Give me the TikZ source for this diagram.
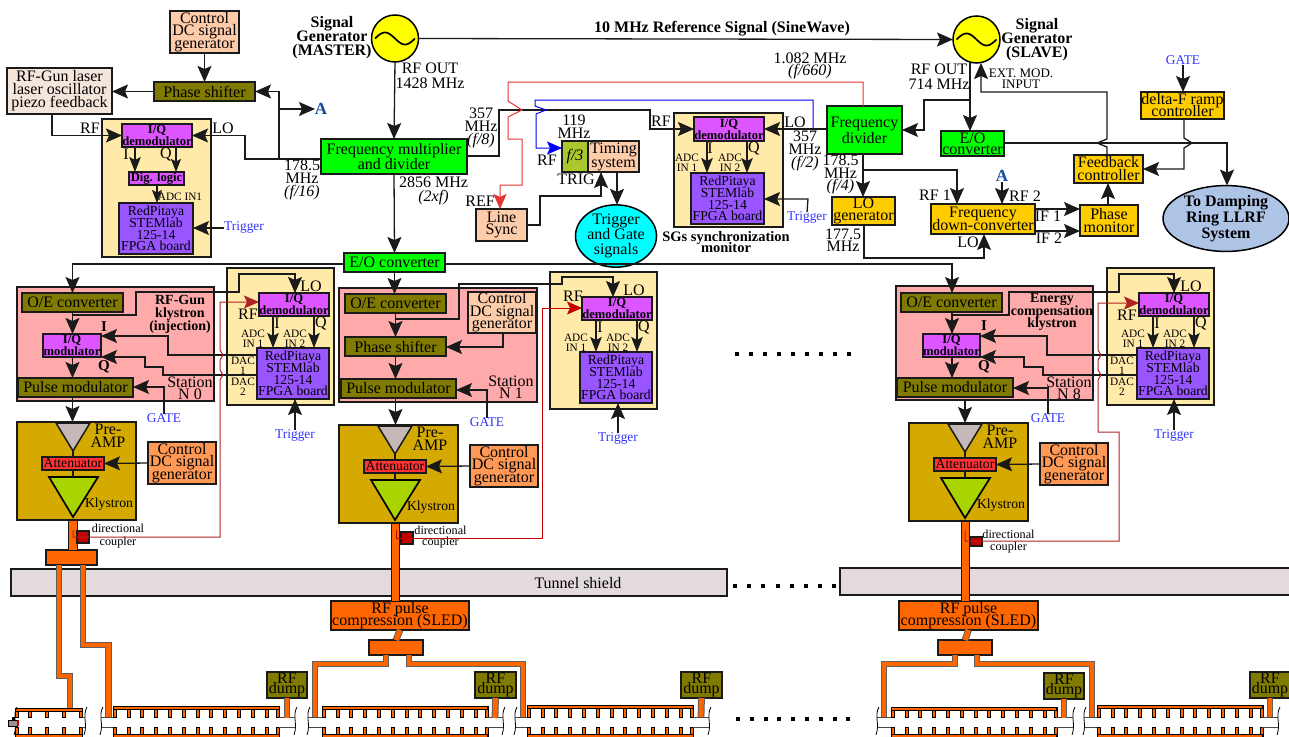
\documentclass[tikz,border=0pt]{standalone}
\usepackage{fontspec}
\setmainfont{Liberation Serif}
\usetikzlibrary{arrows.meta,shapes.geometric}
\lineskiplimit=-100pt
\definecolor{cPeach}{HTML}{FFCCAA}
\definecolor{cOlive}{HTML}{807B00}
\definecolor{cCream}{HTML}{F5E6DC}
\definecolor{cYel}{HTML}{FFEAAA}
\definecolor{cMag}{HTML}{DD55FF}
\definecolor{cPur}{HTML}{9955FF}
\definecolor{cGrn}{HTML}{00FF00}
\definecolor{cGold}{HTML}{FFCC00}
\definecolor{cPink}{HTML}{FFAAAA}
\definecolor{cAmb}{HTML}{D4AA00}
\definecolor{cGray}{HTML}{C4B8B8}
\definecolor{cAtt}{HTML}{FF3333}
\definecolor{cKly}{HTML}{AAD400}
\definecolor{cOrg}{HTML}{FF9955}
\definecolor{cWg}{HTML}{FF6600}
\definecolor{cTun}{HTML}{E3DBDB}
\definecolor{cBlue}{HTML}{3333FF}
\definecolor{cNavy}{HTML}{114B9C}
\definecolor{cDamp}{HTML}{AEC4E6}
\definecolor{cF}{HTML}{AAC82E}
\definecolor{cRedA}{HTML}{B22222}
\definecolor{cRedB}{HTML}{C40000}
\definecolor{cRedC}{HTML}{E83333}
\definecolor{cLn}{HTML}{1A1A1A}
\definecolor{cCyan}{HTML}{00FFFF}
\definecolor{cSig}{HTML}{FFFF00}
\definecolor{cPure}{HTML}{0000FF}
\newcommand\fAs[1]{\fontsize{16}{#1}\selectfont}
\newcommand\fA{\fAs{13}}
\newcommand\fB{\fontsize{13.7}{11.7}\selectfont}
\newcommand\fC{\fontsize{12.6}{12}\selectfont\bfseries}
\newcommand\fS{\fontsize{11.3}{10}\selectfont}
\newcommand\fT{\fontsize{13.4}{12}\selectfont}
\newcommand\fG{\fontsize{16}{14}\selectfont\bfseries}
\tikzset{
 box/.style={draw=cLn,line width=1.6pt,inner sep=0pt,outer sep=0pt,align=center,font=\fA},
 thick box/.style={box,line width=2.2pt},
 thin box/.style={box,line width=1.2pt},
 lbl/.style={inner sep=0pt,outer sep=0pt,align=center,font=\fA},
 blab/.style={lbl,font=\fT,text=cBlue},
 lnk/.style={line width=1.3pt,draw=cLn},
 arr/.style={lnk,-{Stealth[length=16pt,width=14pt,inset=3pt]}},
 marr/.style={lnk,-{Stealth[length=15pt,width=11.5pt,inset=3pt]}},
 sarr/.style={lnk,-{Stealth[length=13pt,width=10pt,inset=2.5pt]}},
 red arr/.style={line width=1pt,-{Stealth[length=15pt,width=13pt,inset=3pt]}},
 wg/.style={draw=cLn!70,double=cWg,double distance=4.8pt,line width=1pt,line cap=butt,miter limit=10},
 wgk/.style={draw=cLn,double=cWg,double distance=7.6pt,line width=.8pt},
 tooth/.style={draw=black,fill=cWg,line width=.5pt},
 dotrow/.style={fill=black}
}
\newcommand\bx[7]{\node[#1,minimum width={(#5-#3)*1pt},minimum height={(#6-#4)*1pt}] (#2) at ({(#3+#5)/2},{(#4+#6)/2}) {#7};}
\newcount\lbc
\newcommand\lb[4][]{\global\advance\lbc by 1 \node[lbl,#1] (lb\the\lbc) at (#2,#3) {#4};}
\newcommand\sg[3]{%
 \node[circle,draw=black,fill=cSig,line width=1.5pt,minimum size=47pt,inner sep=0pt,outer sep=0pt] (#1) at (#2,#3) {};
 \draw[line width=1.7pt,black] plot[domain=-20:20,samples=41,smooth] ({#2+\x},{#3+6*sin(\x*9)});}
% FPGA block
\newcommand\fpga[5]{%
 \begin{scope}[shift={(#2,#3)}]
 \bx{box,fill=cYel}{yb#1}{0}{0}{107}{137}{}
 \bx{box,fill=cMag,font=\fC}{iq#1}{32}{25}{102}{48}{I/Q\\demodulator}
 \bx{box,fill=cPur,font=\fB}{rp#1}{30}{80}{102}{131}{RedPitaya\\STEMlab\\125-14\\FPGA board}
 \draw[marr] (46,0 |- iq#1.south) -- (46,0 |- rp#1.north);
 \draw[marr] (87,0 |- iq#1.south) -- (87,0 |- rp#1.north);
 \lb{50}{55}{I}
 \lb{94}{55}{Q}
 \lb[font=\fS]{26}{71}{ADC\\IN 1}
 \lb[font=\fS]{68}{71}{ADC\\IN 2}
 \lb{84}{18}{LO}
 \lb{#4}{#5}{RF}
 \end{scope}}
% amplifier block
\newcommand\amp[3]{%
 \begin{scope}[shift={(#2,#3)}]
 \bx{box,fill=cAmb}{am#1}{0}{0}{119}{98}{}
 \draw[line width=1.5pt,draw=cLn,fill=cGray] (39,1) -- (73,1) -- (56,29) -- cycle;
 \bx{box,fill=cAtt,font=\fB}{at#1}{25}{35}{87}{48}{Attenuator}
 \draw[line width=1.7pt,draw=black,fill=cKly] (32,55) -- (81,55) -- (56,95) -- cycle;
 \draw[lnk] (56,29) -- (at#1.north);
 \draw[lnk] (at#1.south) -- (56,55);
 \lb{91}{14}{Pre-\\AMP}
 \lb[font=\fB]{92}{82}{Klystron}
 \bx{thick box,fill=cOrg,font=\fAs{12.5}}{dc#1}{131}{20}{199}{62}{Control\\DC signal\\generator}
 \draw[arr] (dc#1.west) -- (at#1.east);
 \end{scope}}
% accelerating structure
\newcommand\acc[6]{%
 \edef\toothlist{#6}%
 \foreach \tp in \toothlist {
  \filldraw[tooth] ({#1+\tp},#3) rectangle ({#1+\tp+3},717);
  \filldraw[tooth] ({#1+\tp},727) rectangle ({#1+\tp+3},737);
 }
 \filldraw[tooth] (#1,#3) rectangle (#2,{#3+2.8});
 \filldraw[tooth] (#1,734) rectangle (#2,738);
 \draw[line width=.9pt,cLn!80] (#4,717) -- (#1,717) (#2,717) -- (#5,717) (#4,727) -- (#1,727) (#2,727) -- (#5,727);
 \draw[line width=.8pt,black] ({#4+2},707) .. controls ({#4-3},716) and ({#4+3},724) .. ({#4-1},735);
 \draw[line width=.8pt,black] ({#5+2},707) .. controls ({#5-3},716) and ({#5+3},724) .. ({#5-1},735);}
\newcommand\lng{0,13.8,27.6,41.4,55.2,69,82.8,96.6,110.4,124.2,138,151.8,163}
\begin{document}
\begin{tikzpicture}[x=1pt,y=-1pt]
\useasboundingbox (0,0) rectangle (1289,736);
\fill[white] (0,0) rectangle (1289,736);
% ---- tunnel shield
\bx{thin box,fill=cTun}{tun1}{11}{569}{727}{596}{}
\bx{thin box,fill=cTun}{tun2}{840}{568}{1290}{595}{}
\lb{578}{583}{Tunnel shield}
% ---- accelerating structures
\acc{15}{82}{708}{15}{85}{0,13,30,47,64}
\acc{113}{279}{706}{101}{295}{\lng}
\acc{322}{487}{706}{308}{503}{\lng}
\acc{527}{693}{705}{515}{709}{\lng}
\acc{891}{1056}{707}{877}{1073}{\lng}
\acc{1097}{1262}{705}{1084}{1278}{\lng}
\fill[cGray!80!black] (8,720) rectangle (17,726);
\draw[line width=.7pt,black] (8,720) rectangle (17,726);
\fill[cRedB] (17,720) rectangle (19,726);
\fill[black] (12,717) rectangle (15,720);
% ---- waveguide splitters and SLED
\coordinate (wgA) at (70,708);
\coordinate (wgB) at (108.5,717);
\coordinate (wgC) at (315,717);
\coordinate (wgD) at (523,717);
\coordinate (wgE) at (884,717);
\coordinate (wgF) at (1092,717);
\bx{box,fill=cWg,line width=1.2pt}{sp0}{46}{550}{97}{565}{}
\bx{thick box,fill=cWg,font=\fAs{12}}{sl1}{331}{601}{469}{630}{RF pulse\\compression (SLED)}
\bx{box,fill=cWg,line width=1.2pt}{sp1}{369}{640}{423}{655}{}
\bx{thick box,fill=cWg,font=\fAs{12}}{sl2}{899}{601}{1038}{630}{RF pulse\\compression (SLED)}
\bx{box,fill=cWg,line width=1.2pt}{sp2}{938}{640}{992}{655}{}
\draw[wg] (59,0 |- sp0.south) -- (59,676) -- (70,676) -- (wgA);
\draw[wg] (83,0 |- sp0.south) -- (83,645) -- (108.5,645) -- (wgB);
\draw[wg] (386,0 |- sp1.south) -- (386,664) -- (315,664) -- (wgC);
\draw[wg] (409,0 |- sp1.south) -- (409,664) -- (523,664) -- (wgD);
\draw[wg] (955,0 |- sp2.south) -- (955,664) -- (884,664) -- (wgE);
\draw[wg] (977,0 |- sp2.south) -- (977,664) -- (1092,664) -- (wgF);
\draw[wg] (sl1.south) -- (sp1.north);
\draw[wg] (sl2.south) -- (sp2.north);
% dumps
\bx{box,fill=cOlive,font=\fAs{10.5}}{du1}{267}{672}{307}{698}{RF\\dump}
\bx{box,fill=cOlive,font=\fAs{10.5}}{du2}{475}{672}{516}{698}{RF\\dump}
\bx{box,fill=cOlive,font=\fAs{10.5}}{du3}{681}{672}{722}{698}{RF\\dump}
\bx{box,fill=cOlive,font=\fAs{10.5}}{du4}{1044}{673}{1084}{699}{RF\\dump}
\bx{box,fill=cOlive,font=\fAs{10.5}}{du5}{1250}{672}{1290}{698}{RF\\dump}
\coordinate (dp1) at (287,718);\coordinate (dp2) at (495,718);\coordinate (dp3) at (701,717);\coordinate (dp4) at (1064,718);\coordinate (dp5) at (1270,717);
\foreach \d in {1,...,5} \draw[wg] (du\d.south) -- (dp\d);
% klystron guides
\coordinate (kt0) at (73,505);\coordinate (kt1) at (395.5,510);\coordinate (kt8) at (965.5,510);
\draw[wgk] (kt0) -- (73,0 |- sp0.north);
\draw[wgk] (kt1) -- (395.5,0 |- sl1.north);
\draw[wgk] (kt8) -- (965.5,0 |- sl2.north);
% ---- signal generators
\sg{mas}{395}{38.5}
\sg{sla}{976.5}{39.5}
\lb[font=\fG]{332}{38}{Signal\\Generator\\(MASTER)}
\lb[font=\fG]{1037}{39.5}{Signal\\Generator\\(SLAVE)}
\draw[arr] (mas.east) -- (sla.west);
\lb[font=\fG]{722}{29}{10 MHz Reference Signal (SineWave)}
\lb[font=\fAs{15}]{430}{75.5}{RF OUT\\1428 MHz}
\lb[font=\fAs{15}]{939}{76.5}{RF OUT\\714 MHz}
% ---- top-left group
\bx{thick box,fill=cPeach,font=\fAs{12.3}}{ct0}{170}{11}{239}{53}{Control\\DC signal\\generator}
\bx{thick box,fill=cOlive}{ps0}{154}{82}{255}{101}{Phase shifter}
\bx{thick box,fill=cCream}{las}{7}{68}{112}{114}{RF-Gun laser\\laser oscillator\\piezo feedback}
\bx{box,fill=cYel}{ybT}{102}{119}{211}{257}{}
\bx{box,fill=cMag,font=\fC}{iqT}{122}{124}{192}{147}{I/Q\\demodulator}
\bx{box,fill=cMag,font=\fC}{dig}{129}{172}{184}{185}{Dig. logic}
\bx{box,fill=cPur,font=\fB}{rpT}{119}{203}{193}{254}{RedPitaya\\STEMlab\\125-14\\FPGA board}
\bx{thick box,fill=cGrn,font=\fAs{15}}{fm}{321}{139}{467}{174}{Frequency multiplier\\and divider}
\bx{thick box,fill=cGrn}{eo}{344}{253}{445}{272}{E/O converter}
\draw[arr] (ct0.south) -- (ps0.north);
\draw[arr] (ps0.west) -- (ps0.west -| las.east);
\coordinate (fmL) at (321,159);
\coordinate (aTip) at (315,109);
\draw[arr] (fmL) -- (279,159) |- (ps0.east);
\draw[arr] (279,109) -- (aTip);
\lb[font=\fontsize{17}{17}\selectfont\bfseries,text=cNavy]{321}{109}{A}
\draw[arr] (fmL) -- (245,159) |- (iqT.east);
\draw[arr] (52,0 |- las.south) |- (iqT.west);
\draw[marr] (135,0 |- iqT.south) -- (135,0 |- dig.north);
\draw[sarr] (176,0 |- iqT.south) -- (176,0 |- dig.north);
\draw[sarr] (157,0 |- dig.south) -- (157,0 |- rpT.north);
\node[blab] (trT) at (244,228) {Trigger};
\draw[arr] (trT.west) -- (trT.west -| rpT.east);
\lb{90}{128}{RF}
\lb{223}{128}{LO}
\lb{126}{154}{I}
\lb{166}{154}{Q}
\lb[font=\fS]{180}{197}{ADC IN1}
\lb{302}{179.5}{178.5\\MHz\\{\itshape (f/16)}}
\draw[arr] (mas.south) -- (fm.north);
\draw[arr] (fm.south) -- (eo.north);
\lb[font=\fAs{14}]{433.5}{191}{2856 MHz\\{\itshape (2xf)}}
% ---- centre
\bx{box,fill=cF}{f3}{562}{141}{588}{172}{\itshape f/3}
\bx{box,fill=cPeach,font=\fAs{14}}{tim}{588}{141}{639}{172}{Timing\\system}
\bx{box,fill=cPeach,font=\fAs{12}}{ls}{476}{209}{527}{241}{Line\\Sync}
\node[ellipse,draw=black,fill=cCyan,line width=1.5pt,minimum width=75pt,minimum height=58pt,inner sep=0pt,outer sep=0pt,align=center,font=\fAs{15}] (tg) at (616,236) {Trigger\\and Gate\\signals};
\bx{box,fill=cYel}{ybM}{674}{113}{783}{227}{}
\bx{box,fill=cMag,font=\fC}{iqM}{694}{117}{764}{141}{I/Q\\demodulator}
\bx{box,fill=cPur,font=\fB}{rpM}{691}{173}{764}{224}{RedPitaya\\STEMlab\\125-14\\FPGA board}
\bx{thick box,fill=cGrn,font=\fAs{16}}{fd}{827}{106}{902}{154}{Frequency\\divider}
\bx{box,fill=cGold,font=\fAs{12}}{log}{832}{197}{895}{225}{LO\\generator}
\draw[arr] (fm.east |- 0,156) -- (499,156) -- (499,110) -- (650,110) -- (650,129) -- (iqM.west);
\draw[red arr,cRedC] (863,0 |- fd.north) -- (863,82) -- (508,82) -- (508,101) -- (522,110) -- (508,117) -- (508,139) -- (522,139) -- (522,185) -- (500,185) -- (500,0 |- ls.north);
\draw[red arr,cPure] (813,0 |- iqM.east) -- (813,100) -- (535,100) -- (535,106) -- (546,110) -- (536,114) -- (536,148) -- (f3.west |- 0,148);
\draw[arr] (ls.east) -- (540,225) -- (540,196) -- (601,196) -- (601,0 |- tim.south);
\draw[arr] (617,0 |- tim.south) -- (617,0 |- tg.north);
\draw[arr] (fd.west |- iqM.east) -- (iqM.east);
\draw[marr] (707,0 |- iqM.south) -- (707,0 |- rpM.north);
\draw[marr] (747,0 |- iqM.south) -- (747,0 |- rpM.north);
\node[blab] (trM) at (807,218) {Trigger};
\draw[arr] (trM.north) -- (808,199) -- (rpM.east |- 0,199);
\lb{481}{128}{357\\MHz\\{\itshape (f/8)}}
\lb{574}{126.5}{119\\MHz}
\lb{547}{160}{RF}
\lb{576}{179}{TRIG}
\lb{480}{201}{REF}
\lb{661}{121}{RF}
\lb{795}{122}{LO}
\lb{710}{148}{I}
\lb{754}{148}{Q}
\lb[font=\fS]{687}{163}{ADC\\IN 1}
\lb[font=\fS]{730}{163}{ADC\\IN 2}
\lb{805}{150.5}{357\\MHz\\{\itshape (f/2)}}
\lb[font=\fontsize{14.5}{11.5}\selectfont\bfseries]{726}{242}{SGs synchronization\\monitor}
\lb[font=\fAs{12}]{810}{66}{1.082 MHz\\{\itshape (f/660)}}
\lb[font=\fAs{12.5}]{840.5}{174.5}{178.5\\MHz\\{\itshape (f/4)}}
\lb[font=\fAs{12}]{843}{240}{177.5\\MHz}
% ---- right group
\bx{box,fill=cGrn,font=\fAs{11}}{eoS}{941}{131}{1004}{156}{E/O\\converter}
\bx{box,fill=cGold,font=\fAs{12}}{dfr}{1141}{92}{1224}{119}{delta-F ramp\\controller}
\bx{box,fill=cGold}{fbc}{1074}{155}{1143}{183}{Feedback\\controller}
\bx{box,fill=cGold}{phm}{1080}{205}{1138}{236}{Phase\\monitor}
\bx{box,fill=cGold}{fdc}{931}{204}{1035}{234}{Frequency\\down-converter}
\node[ellipse,draw=black,fill=cDamp,line width=1.5pt,minimum width=126pt,minimum height=55pt,inner sep=0pt,outer sep=0pt,align=center,font=\fontsize{16}{16}\selectfont\bfseries] (dmp) at (1226,218.5) {To Damping\\Ring LLRF\\System};
\draw[arr] (970,0 |- sla.south) -- (970,0 |- eoS.north);
\draw[arr] (970,100) -- (924,100) -- (924,130) -- (fd.east |- 0,130);
\draw[arr] (1107,0 |- fbc.north) -- (1107,147) -- (1097,143) -- (1107,139) -- (1107,92) -- (981,92) -- (981,63);
\lb[font=\fontsize{13}{11}\selectfont]{1021}{79}{EXT. MOD.\\INPUT}
\draw[arr] (eoS.east |- 0,143) -- (1227,143) -- (1227,0 |- dmp.north);
\node[blab] (gtS) at (1183,60) {GATE};
\draw[arr] (gtS.south) -- (gtS.south |- dfr.north);
\draw[arr] (1184,0 |- dfr.south) -- (1184,138) -- (1192,143) -- (1184,148) -- (1184,169) -- (fbc.east |- 0,169);
\draw[arr] (1108,0 |- phm.north) -- (1108,0 |- fbc.south);
\draw[arr] (fdc.east |- 0,209) -- (phm.west |- 0,209);
\draw[arr] (fdc.east |- 0,231) -- (phm.west |- 0,231);
\lb{1048}{216}{IF 1}
\lb{1049}{238}{IF 2}
\node[lbl,font=\fontsize{17}{17}\selectfont\bfseries,text=cNavy] (aLb) at (1002,176) {A};
\draw[arr] (aLb.south) -- (aLb.south |- fdc.north);
\lb{1025}{196}{RF 2}
\lb{935}{195}{RF 1}
\draw[arr] (863,170) -- (957,170) -- (957,0 |- fdc.north);
\draw[arr] (863,0 |- fd.south) -- (863,0 |- log.north);
\draw[arr] (864,0 |- log.south) -- (864,258) -- (984,258) -- (984,0 |- fdc.south);
\lb{968}{242}{LO}
% ---- station pink panels
\bx{box,fill=cPink,line width=2pt}{pk0}{17}{287}{214}{401}{}
\bx{box,fill=cPink,line width=2pt}{pk1}{339}{288}{537}{402}{}
\bx{box,fill=cPink,line width=2pt}{pk8}{896}{286}{1093}{400}{}
\fpga{0}{227}{268}{21}{46}
\fpga{1}{550}{272}{23}{24}
\fpga{8}{1107}{268}{20}{47}
\amp{0}{17}{422}
\amp{1}{339}{425}
\amp{8}{909}{423}
% station 0
\bx{thick box,fill=cOlive}{oe0}{22}{293}{123}{312}{O/E converter}
\bx{box,fill=cMag,font=\fC}{iqm0}{43}{334}{101}{357}{I/Q\\modulator}
\bx{thick box,fill=cOlive}{pm0}{18}{378}{133}{397}{Pulse modulator}
\lb[font=\fontsize{14}{13}\selectfont\bfseries]{180}{314}{RF-Gun\\klystron\\(injection)}
\lb[font=\fontsize{15}{15}\selectfont\bfseries]{104}{327}{I}
\lb[font=\fontsize{15}{15}\selectfont\bfseries]{104}{367}{Q}
\lb[font=\fAs{12}]{190}{388}{Station\\N 0}
\draw[arr] (oe0.south) -- (oe0.south |- iqm0.north);
\draw[arr] (oe0.south |- iqm0.south) -- (oe0.south |- pm0.north);
\draw[arr] (72.5,0 |- pm0.south) -- (72.5,0 |- am0.north);
\draw[arr] (eo.west |- 0,264) -| (oe0.north);
\draw[arr] (73,315) -- (136,315) -- (136,292) -- (239,292) -- (239,274) -- (295,274) -- (295,0 |- iq0.north);
\draw[arr] (rp0.west |- 0,355) -- (168,355) -- (168,336) -- (iqm0.east |- 0,336);
\draw[arr] (rp0.west |- 0,375) -- (163,375) -- (163,367) -- (145,367) -- (145,357) -- (iqm0.east |- 0,357);
\node[blab] (gt0) at (164,418) {GATE};
\draw[arr] (gt0.north) -- (164,387) -- (pm0.east |- 0,387);
\node[blab] (tr0) at (295,436) {Trigger};
\draw[arr] (tr0.north) -- (tr0.north |- rp0.south);
\lb[font=\fS]{243}{366}{DAC\\1}
\lb[font=\fS]{243}{387}{DAC\\2}
\bx{box,fill=cRedB,line width=1.2pt}{cp0}{77}{531}{89}{543}{}
\lb[font=\fontsize{12.2}{13}\selectfont]{118}{536.5}{directional\\coupler}
\draw[red arr,cRedA] (73,530) -- (73,537) -- (220,537) -- (220,380) -- (223,375) -- (220,370) -- (220,360) -- (223,355) -- (220,350) -- (220,302) -- (iq0.west |- 0,302);
% station 8 nodes first (bus from E/O targets oe8)
\bx{thick box,fill=cOlive}{oe8}{901}{293}{1002}{312}{O/E converter}
\bx{box,fill=cMag,font=\fC}{iqm8}{923}{334}{980}{357}{I/Q\\modulator}
\bx{thick box,fill=cOlive}{pm8}{897}{378}{1013}{397}{Pulse modulator}
% station 1
\bx{thick box,fill=cOlive}{oe1}{345}{294}{446}{313}{O/E converter}
\bx{thick box,fill=cPeach,font=\fAs{12.5}}{ct1}{468}{292}{536}{333}{Control\\DC signal\\generator}
\bx{thick box,fill=cOlive}{ps1}{345}{337}{446}{356}{Phase shifter}
\bx{thick box,fill=cOlive}{pm1}{341}{379}{456}{398}{Pulse modulator}
\draw[arr] (eo.south) -- (eo.south |- oe1.north);
\draw[arr] (oe1.south) -- (oe1.south |- ps1.north);
\draw[arr] (ps1.south) -- (ps1.south |- pm1.north);
\draw[arr] (395.5,0 |- pm1.south) -- (395.5,0 |- am1.north);
\draw[arr] (eo.east |- 0,264) -- (952,264) -- (952,0 |- oe8.north);
\draw[arr] (395,319) -- (459,319) -- (459,284) -- (562,284) -- (562,277) -- (613,277) -- (613,0 |- iq1.north);
\draw[arr] (503,0 |- ct1.south) -- (503,347) -- (ps1.east |- 0,347);
\node[blab] (gt1) at (487,422) {GATE};
\draw[arr] (gt1.north) -- (487,390) -- (pm1.east |- 0,390);
\node[blab] (tr1) at (618,439) {Trigger};
\draw[arr] (tr1.north) -- (tr1.north |- rp1.south);
\lb[font=\fAs{12}]{511}{387}{Station\\N 1}
\bx{box,fill=cRedB,line width=1.2pt}{cp1}{401}{532}{413}{544}{}
\lb[font=\fontsize{12.2}{11}\selectfont]{440.5}{537.5}{directional\\coupler}
\draw[red arr,cRedB] (396,530) -- (396,538) -- (542,538) -- (542,308) -- (iq1.west |- 0,308);
% station 8
\lb[font=\fontsize{14}{12.5}\selectfont\bfseries]{1052}{312}{Energy\\compensation\\klystron}
\lb[font=\fontsize{15}{15}\selectfont\bfseries]{984}{326}{I}
\lb[font=\fontsize{15}{15}\selectfont\bfseries]{984}{367}{Q}
\lb[font=\fAs{12}]{1069}{388}{Station\\N 8}
\draw[arr] (952,0 |- oe8.south) -- (952,0 |- iqm8.north);
\draw[arr] (952,0 |- iqm8.south) -- (952,0 |- pm8.north);
\draw[arr] (965,0 |- pk8.south) -- (965,0 |- am8.north);
\draw[arr] (952,315) -- (1009,315) -- (1009,292) -- (1119,292) -- (1119,274) -- (1174,274) -- (1174,0 |- iq8.north);
\draw[arr] (rp8.west |- 0,355) -- (1047,355) -- (1047,336) -- (iqm8.east |- 0,336);
\draw[arr] (rp8.west |- 0,375) -- (1043,375) -- (1043,367) -- (1024,367) -- (1024,357) -- (iqm8.east |- 0,357);
\node[blab] (gt8) at (1048,418) {GATE};
\draw[arr] (gt8.north) -- (1048,388) -- (pm8.east |- 0,388);
\node[blab] (tr8) at (1174,436) {Trigger};
\draw[arr] (tr8.north) -- (tr8.north |- rp8.south);
\lb[font=\fS]{1122}{366}{DAC\\1}
\lb[font=\fS]{1122}{387}{DAC\\2}
\bx{box,fill=cRedB,line width=1.2pt}{cp8}{970}{537}{982}{546}{}
\lb[font=\fontsize{12.2}{12}\selectfont]{1008.5}{542}{directional\\coupler}
\draw[red arr,cRedA] (965,531) -- (965,541) -- (1119,541) -- (1119,432) -- (1098,432) -- (1098,380) -- (1101,375) -- (1098,370) -- (1098,360) -- (1101,355) -- (1098,350) -- (1098,303) -- (iq8.west |- 0,303);
% ---- dots
\foreach \i in {0,...,7} \fill[dotrow] ({733+14.2*\i},584) rectangle +(4,4);
\foreach \i in {0,...,8} \fill[dotrow] ({735+14*\i},352) rectangle +(4,4);
\foreach \i in {0,...,8} \fill[dotrow] ({736+13.8*\i},717) rectangle +(4,4);
\end{tikzpicture}
\end{document}
